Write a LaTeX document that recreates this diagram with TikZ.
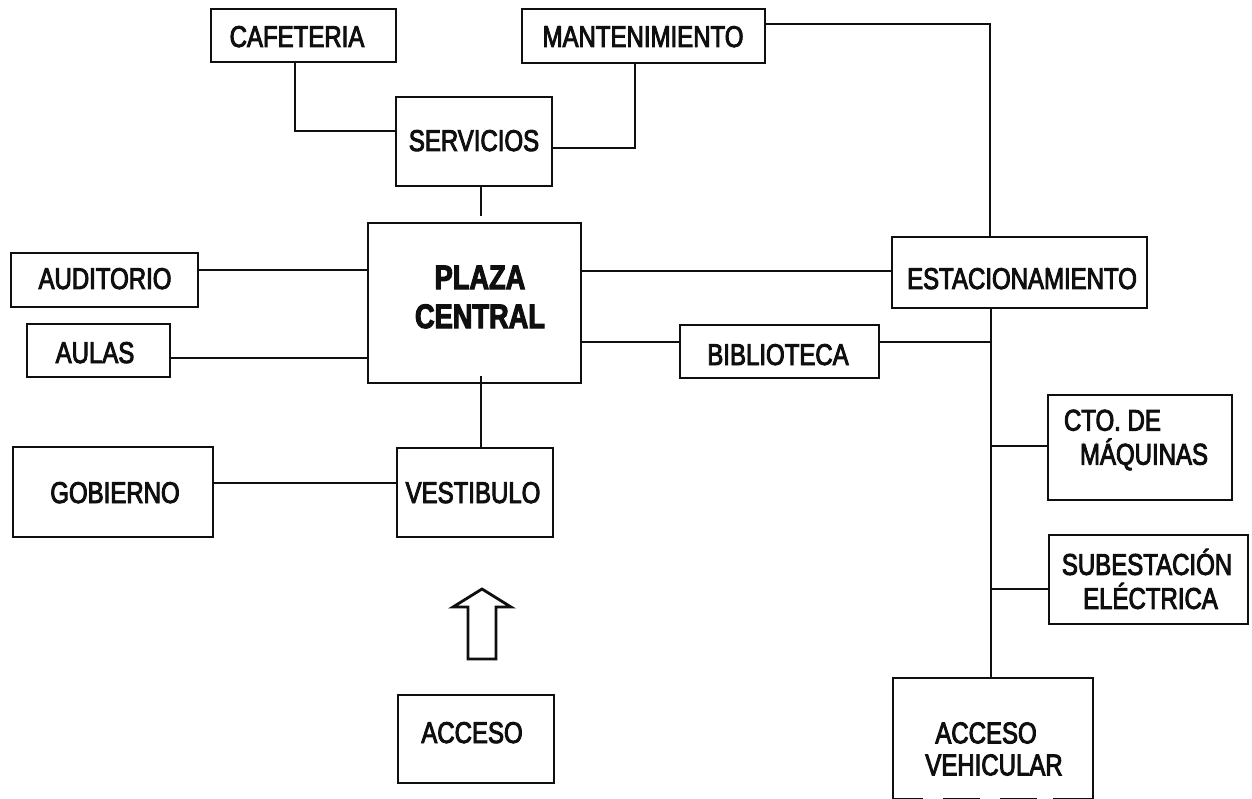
\documentclass[tikz,border=0pt]{standalone}
\usepackage{fontspec}
\setmainfont[FakeStretch=0.8,FakeBold=3]{Liberation Sans}
\definecolor{ink}{RGB}{15,15,15}
\tikzset{
  box/.style={draw=ink,line width=2.4pt,fill=white,inner sep=0pt,anchor=north west},
  lab/.style={text=ink,inner sep=0pt,anchor=base,font=\fontsize{30}{34}\selectfont},
  mlab/.style={text=ink,inner sep=0pt,anchor=center,align=center,font=\fontsize{30}{34}\selectfont},
  link/.style={draw=ink,line width=2.2pt},
}
\begin{document}
\begin{tikzpicture}[x=1pt,y=-1pt]
\useasboundingbox (0,0) rectangle (1252,799);
\fill[white] (0,0) rectangle (1252,799);
% boxes
\node[box,minimum width=185pt,minimum height=53pt] (caf) at (210,8) {};
\node[box,minimum width=243pt,minimum height=54pt] (man) at (521,8) {};
\node[box,minimum width=156pt,minimum height=89pt] (ser) at (395,96) {};
\node[box,minimum width=213pt,minimum height=160pt] (pla) at (367,222) {};
\node[box,minimum width=187pt,minimum height=54pt] (aud) at (10,252) {};
\node[box,minimum width=143pt,minimum height=53pt] (aul) at (26,323) {};
\node[box,minimum width=200pt,minimum height=90pt] (gob) at (12,446) {};
\node[box,minimum width=156pt,minimum height=89pt] (ves) at (396,447) {};
\node[box,minimum width=199pt,minimum height=53pt] (bib) at (679,324) {};
\node[box,minimum width=255pt,minimum height=71pt] (est) at (891,236) {};
\node[box,minimum width=184pt,minimum height=105pt] (cto) at (1047,394) {};
\node[box,minimum width=199pt,minimum height=89pt] (sub) at (1048,534) {};
\node[box,minimum width=200pt,minimum height=121pt] (veh) at (892,677) {};
\node[box,minimum width=156pt,minimum height=88pt] (acc) at (397,694) {};
% worn bottom edge of the last box
\coordinate (wa) at (923,798);
\coordinate (wb) at (1053,798);
\draw[white,line width=3.4pt,dash pattern=on 20pt off 37pt] (wa) -- (wb);
% labels
\node[lab] (cafl) at (297,47) {CAFETERIA};
\node[lab] (manl) at (643,47) {MANTENIMIENTO};
\node[lab] (serl) at (474,151) {SERVICIOS};
\node[mlab,font=\fontsize{34}{39}\selectfont\bfseries] (plal) at (480,297) {PLAZA\\CENTRAL};
\node[lab] (audl) at (105,289) {AUDITORIO};
\node[lab] (aull) at (95,363) {AULAS};
\node[lab] (gobl) at (115,503) {GOBIERNO};
\node[lab] (vesl) at (473,503) {VESTIBULO};
\node[lab] (bibl) at (778,365) {BIBLIOTECA};
\node[lab] (estl) at (1022,289) {ESTACIONAMIENTO};
\node[mlab,align=left] (ctol) at (1136,440) {CTO. DE\\\hspace*{16pt}MÁQUINAS};
\node[mlab] (subl) at (1147,579) {SUBESTACIÓN\\\hspace*{7pt}ELÉCTRICA};
\node[mlab,font=\fontsize{30}{32}\selectfont] (vehl) at (994,749) {\hspace*{-16pt}ACCESO\\VEHICULAR};
\node[lab] (accl) at (472,743) {ACCESO};
% junctions and free ends
\coordinate (j1) at (991,342);
\coordinate (j2) at (991,446);
\coordinate (j3) at (991,589);
\coordinate (serend) at (481,216);
\coordinate (vesend) at (481,376);
% connectors
\draw[link] (caf.south west -| 295,62) |- (ser.west |- 0,131);
\draw[link] (man.south west -| 635,62) |- (ser.east |- 0,148);
\draw[link] (man.east |- 0,24) -| (est.north -| 990,0);
\draw[link] (ser.south -| 481,0) -- (serend);
\draw[link] (vesend) -- (ves.north -| 481,0);
\draw[link] (aud.east |- 0,270) -- (pla.west |- 0,270);
\draw[link] (aul.east |- 0,358) -- (pla.west |- 0,358);
\draw[link] (gob.east |- 0,483) -- (ves.west |- 0,483);
\draw[link] (pla.east |- 0,271) -- (est.west |- 0,271);
\draw[link] (pla.east |- 0,342) -- (bib.west |- 0,342);
\draw[link] (bib.east |- 0,342) -- (j1);
\draw[link] (est.south -| 991,0) -- (veh.north -| 991,0);
\draw[link] (j2) -- (cto.west |- j2);
\draw[link] (j3) -- (sub.west |- j3);
\draw[draw=ink,line width=2.8pt,line join=miter] (468,659) -- (468,607) -- (453,607) -- (482,589) -- (511,607) -- (496,607) -- (496,659) -- cycle;
\end{tikzpicture}
\end{document}
